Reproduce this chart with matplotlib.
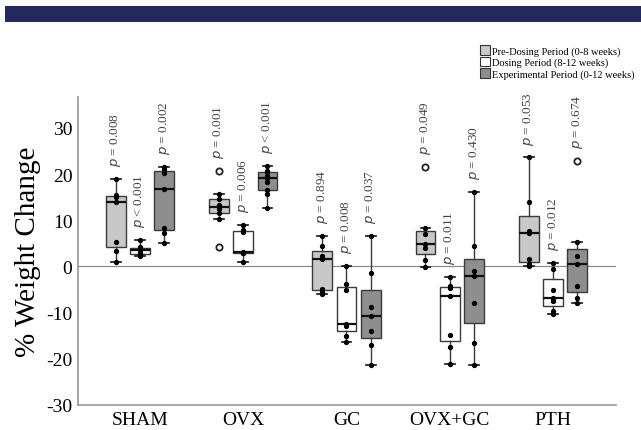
import numpy as np
import matplotlib
matplotlib.use('Agg')
import matplotlib.pyplot as plt
from matplotlib.patches import Patch, Rectangle

plt.rcParams['font.family'] = ['Liberation Serif', 'DejaVu Serif']
plt.rcParams['axes.unicode_minus'] = False

groups = ['SHAM', 'OVX', 'GC', 'OVX+GC', 'PTH']
periods = ['Pre-Dosing Period (0-8 weeks)', 'Dosing Period (8-12 weeks)',
           'Experimental Period (0-12 weeks)']
colors = ['#c8c8c8', '#ffffff', '#8e8e8e']

# % weight change per rat, [group][period]
pre = [
    [1.0, 3.4, 5.2, 14.0, 15.0, 15.5, 18.9],
    [4.2, 10.3, 11.5, 12.4, 12.9, 13.3, 14.6, 15.7, 20.7],
    [-6.0, -5.5, -4.9, 1.6, 2.3, 4.5, 6.7],
    [-0.2, 1.4, 3.9, 4.9, 7.0, 8.3, 21.5],
    [0.0, 0.5, 1.6, 7.2, 7.7, 14.0, 23.6],
]
dosing = [
    [2.3, 2.6, 3.0, 3.5, 3.8, 4.2, 5.8],
    [1.0, 2.9, 3.0, 3.2, 7.4, 7.8, 9.0],
    [-16.3, -15.1, -12.8, -12.4, -5.2, -3.8, 0.2],
    [-21.1, -17.5, -14.8, -6.5, -4.7, -4.3, -2.3],
    [-10.3, -9.6, -7.4, -6.9, -5.1, -0.5, 0.7],
]
experimental = [
    [5.0, 7.3, 8.3, 16.8, 20.2, 21.2, 21.5],
    [12.6, 15.8, 16.6, 18.2, 19.2, 19.7, 20.4, 20.7, 21.8],
    [-21.3, -17.1, -13.9, -10.8, -8.7, -1.5, 6.7],
    [-21.3, -16.6, -7.9, -2.0, -1.0, 4.4, 16.1],
    [-7.9, -6.8, -4.2, 0.5, 2.2, 5.4, 22.9],
]
pvals = [
    ['= 0.008', '< 0.001', '= 0.002'],
    ['= 0.001', '= 0.006', '< 0.001'],
    ['= 0.894', '= 0.008', '= 0.037'],
    ['= 0.049', '= 0.011', '= 0.430'],
    ['= 0.053', '= 0.012', '= 0.674'],
]

fig = plt.figure(figsize=(6.41, 4.31), dpi=100)
# banner strip at the top
fig.patches.append(Rectangle((5 / 641, 1 - 23 / 431), 1, 16 / 431, transform=fig.transFigure,
                             facecolor='#22295c', edgecolor='none'))
ax = fig.add_axes([78 / 641, 25 / 431, 538 / 641, 308 / 431])

offsets = [-0.235, 0.0, 0.235]
width = 0.19
edge = '#3a3a3a'
for k, data in enumerate([pre, dosing, experimental]):
    pos = [i + 1 + offsets[k] for i in range(len(groups))]
    bp = ax.boxplot(data, positions=pos, widths=width, patch_artist=True, whis=1.5,
                    medianprops=dict(color='#111111', lw=1.6),
                    boxprops=dict(facecolor=colors[k], edgecolor=edge, lw=1.0),
                    whiskerprops=dict(color=edge, lw=1.0),
                    capprops=dict(color='#111111', lw=1.2),
                    flierprops=dict(marker='o', markerfacecolor='none', markeredgecolor='#222222',
                                    markeredgewidth=1.3, markersize=4.5))
    for i, vals in enumerate(data):
        v = np.array(vals)
        q1, q3 = np.percentile(v, [25, 75])
        iqr = q3 - q1
        inside = v[(v >= q1 - 1.5 * iqr) & (v <= q3 + 1.5 * iqr)]
        ax.plot([pos[i]] * len(inside), inside, 'o', color='black', ms=2.8, zorder=4)
        ax.text(pos[i], v.max() + 2.8, r'$\mathit{p}$ ' + pvals[i][k], rotation=90,
                ha='center', va='bottom', fontsize=9.5, color='#444444')

ax.axhline(0, color='#8a8a8a', lw=0.9, zorder=0)
ax.set_xlim(0.4, 5.61)
ax.set_ylim(-30, 36.7)
ax.set_yticks([-30, -20, -10, 0, 10, 20, 30])
ax.set_xticks(range(1, 6))
ax.set_xticklabels(groups)
ax.tick_params(axis='both', length=0, labelsize=14, pad=4)
ax.set_ylabel('% Weight Change', fontsize=21, labelpad=3.5)
for s in ['top', 'right']:
    ax.spines[s].set_visible(False)
for s in ['left', 'bottom']:
    ax.spines[s].set_color('#999999')
    ax.spines[s].set_linewidth(1.2)

handles = [Patch(facecolor=c, edgecolor='#333333', lw=0.8) for c in colors]
fig.legend(handles, periods, loc='upper right', bbox_to_anchor=(1.0, 1 - 40 / 431),
           frameon=False, fontsize=7.5, handlelength=1.0, handleheight=1.0,
           handletextpad=0.2, labelspacing=0.1, borderaxespad=0.2)

plt.savefig('out.png', dpi=100)
